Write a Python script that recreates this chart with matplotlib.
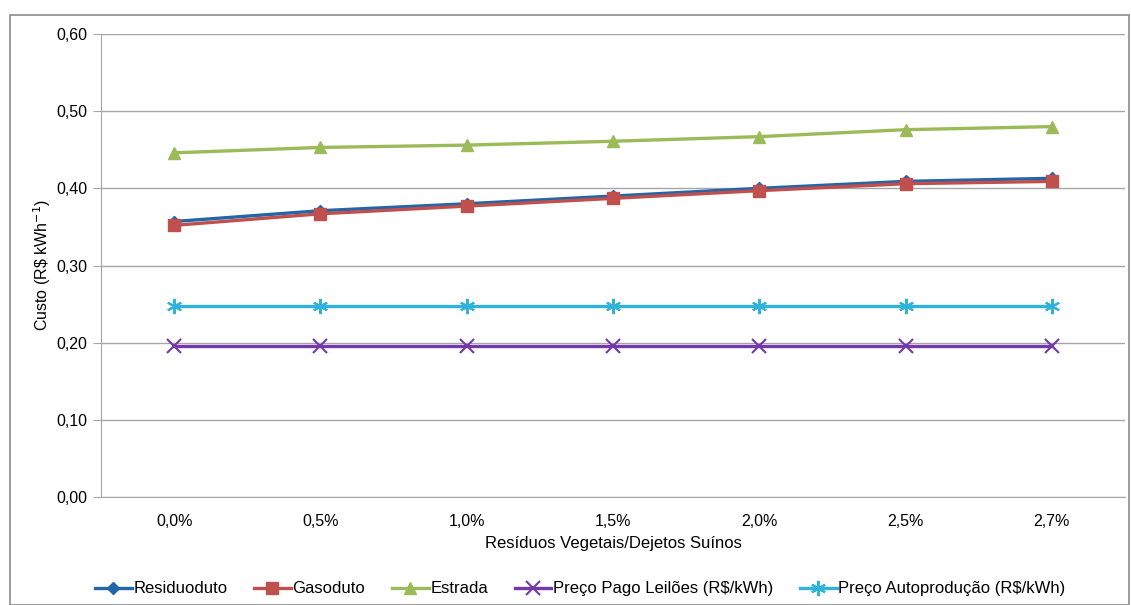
import matplotlib
matplotlib.use("Agg")
from matplotlib import pyplot as plt
from matplotlib.patches import Rectangle
from matplotlib.ticker import FuncFormatter

plt.rcParams["font.family"] = ["Liberation Sans", "DejaVu Sans"]

categories = ["0,0%", "0,5%", "1,0%", "1,5%", "2,0%", "2,5%", "2,7%"]
residuoduto = [0.357, 0.371, 0.380, 0.390, 0.400, 0.409, 0.413]
gasoduto = [0.352, 0.367, 0.377, 0.387, 0.397, 0.406, 0.409]
estrada = [0.446, 0.453, 0.456, 0.461, 0.467, 0.476, 0.480]
leiloes = [0.196, 0.196, 0.196, 0.196, 0.196, 0.196, 0.196]
autoproducao = [0.248, 0.248, 0.248, 0.248, 0.248, 0.248, 0.248]

fig = plt.figure(figsize=(11.31, 6.05), dpi=100)
ax = fig.add_axes([101 / 1131, 1 - 497 / 605, (1125 - 101) / 1131, (497 - 34) / 605])

# outer chart border
fig.patches.append(Rectangle((10 / 1131, 0.0), 1119 / 1131, 1 - 15 / 605,
                             transform=fig.transFigure, fill=False,
                             edgecolor="#8c8c8c", linewidth=1.2))

x = list(range(len(categories)))
lw = 2.4
ax.plot(x, residuoduto, color="#2265A8", lw=lw, marker="D", ms=6, label="Residuoduto")
ax.plot(x, gasoduto, color="#C0504D", lw=lw, marker="s", ms=8, label="Gasoduto")
ax.plot(x, estrada, color="#9BBB59", lw=lw, marker="^", ms=9, label="Estrada")
ax.plot(x, leiloes, color="#7339A8", lw=lw, marker="x", ms=10, mew=1.5,
        label="Preço Pago Leilões (R$/kWh)")
ax.plot(x, autoproducao, color="#2FB3DB", lw=lw, marker=(6, 2, 0), ms=11, mew=1.5,
        label="Preço Autoprodução (R$/kWh)")

ax.set_xlim(-0.5, len(categories) - 0.5)
ax.set_ylim(0, 0.6)
ax.set_yticks([0, 0.1, 0.2, 0.3, 0.4, 0.5, 0.6])
ax.yaxis.set_major_formatter(FuncFormatter(lambda v, p: f"{v:.2f}".replace(".", ",")))
ax.set_xticks(x)
ax.set_xticklabels(categories)
ax.grid(axis="y", color="#a6a6a6", linewidth=1)
ax.set_axisbelow(True)
for s in ["top", "right"]:
    ax.spines[s].set_visible(False)
for s in ["left", "bottom"]:
    ax.spines[s].set_color("#a6a6a6")
ax.tick_params(axis="y", length=6, color="#a6a6a6", labelsize=11.5, pad=4)
ax.tick_params(axis="x", length=0, labelsize=11.5, pad=12)

ax.set_xlabel("Resíduos Vegetais/Dejetos Suínos", fontsize=12, labelpad=5)
ax.set_ylabel("Custo (R\\$ kWh$^{-1}$)", fontsize=11.5, labelpad=2)

ax.legend(loc="upper center", bbox_to_anchor=(0.468, -0.15), ncol=5, frameon=False,
          fontsize=12, handlelength=2.2, handletextpad=0.1, columnspacing=1.6)

fig.savefig("out.png", dpi=100)
